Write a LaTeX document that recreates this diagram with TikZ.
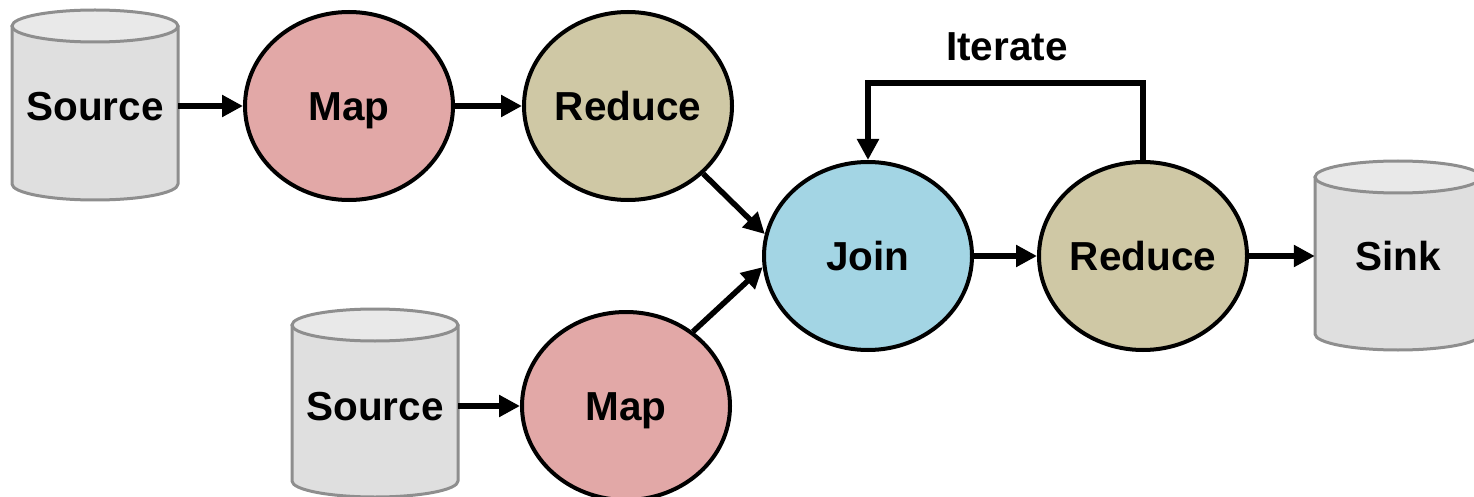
\documentclass[tikz,border=0pt]{standalone}
\usepackage{fontspec}
\setmainfont{Liberation Sans}
\usetikzlibrary{arrows.meta,shapes.geometric}
\definecolor{mapc}{HTML}{E2A8A7}
\definecolor{redc}{HTML}{CFC8A5}
\definecolor{joinc}{HTML}{A3D5E4}
\definecolor{cylbodyc}{HTML}{DFDFDF}
\definecolor{cyltopc}{HTML}{E9E9E9}
\definecolor{cylline}{HTML}{8E8E8E}
\newcommand{\dbcyl}[3]{%
  \path[cylbody] (#1-83,#2) -- (#1-83,#3) arc[start angle=180,end angle=360,x radius=83,y radius=16] -- (#1+83,#2) -- cycle;
  \path[cyltop] (#1,#2) ellipse[x radius=83,y radius=16];}
\tikzset{
  cylbody/.style={fill=cylbodyc,draw=cylline,line width=3pt,line join=round},
  cyltop/.style={fill=cyltopc,draw=cylline,line width=3pt},
  cylnode/.style={rectangle,minimum width=166pt,minimum height=150pt,inner sep=0pt,text height=29pt,text depth=0pt,font=\fontsize{40.5}{48}\selectfont\bfseries},
  op/.style={ellipse,draw=black,line width=4pt,minimum width=208pt,minimum height=188pt,inner sep=0pt,text height=29pt,text depth=0pt,font=\fontsize{40.5}{48}\selectfont\bfseries},
  flow/.style={line width=5.5pt,-{Triangle[length=21pt,width=21pt]}},
  lbl/.style={font=\fontsize{40.5}{48}\selectfont\bfseries}
}
\begin{document}
\begin{tikzpicture}[x=1pt,y=1pt]
\useasboundingbox (0,0) rectangle (1474,-497);
% cylinders
\dbcyl{95}{-26}{-184}
\dbcyl{375}{-325}{-481}
\dbcyl{1398}{-177}{-334}
\node[cylnode] (src1) at (95,-106) {Source};
\node[cylnode] (src2) at (375,-406) {Source};
\node[cylnode] (sink) at (1398,-256) {Sink};
% operators
\node[op,fill=mapc] (map1) at (349,-106) {Map};
\node[op,fill=redc] (red1) at (628,-106) {Reduce};
\node[op,fill=mapc] (map2) at (626,-406) {Map};
\node[op,fill=joinc] (join) at (868,-256) {Join};
\node[op,fill=redc] (red2) at (1143,-256) {Reduce};
% connectors
\draw[flow] (src1.east) -- (map1.west);
\draw[flow] (map1.east) -- (red1.west);
\draw[flow] (src2.east) -- (map2.west);
\draw[flow] (red1.-42) -- (join.168);
\draw[flow] (map2.48) -- (join.186);
\draw[flow] (join.east) -- (red2.west);
\draw[flow] (red2.east) -- (sink.west);
\coordinate (loopR) at (1143,-83);
\draw[flow,line join=miter] (red2.north) -- (loopR) -| (join.north);
\node[lbl] (iter) at (1007,-47) {Iterate};
\end{tikzpicture}
\end{document}
